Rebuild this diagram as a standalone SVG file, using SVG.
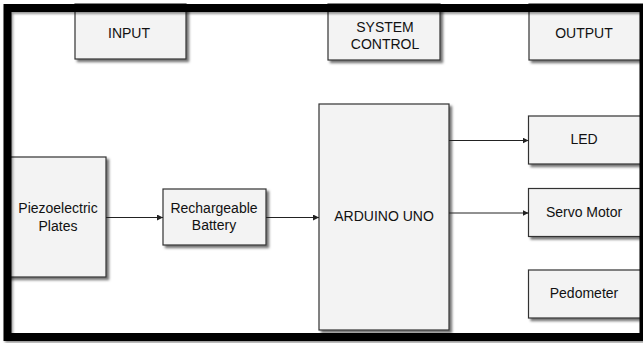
<svg xmlns="http://www.w3.org/2000/svg" width="643" height="343" viewBox="0 0 643 343">
<style>
.box{fill:#f3f3f3;stroke:#333;stroke-width:1.2;filter:url(#sh)}
.t{font-family:"Liberation Sans",Arial,sans-serif;font-size:14px;fill:#111;text-anchor:middle}
.c{stroke:#222;stroke-width:1;fill:none;marker-end:url(#ah)}
</style>
<defs>
<filter id="sh" x="-10%" y="-10%" width="130%" height="130%">
<feDropShadow dx="2.5" dy="2.5" stdDeviation="1" flood-color="#000" flood-opacity="0.55"/>
</filter>
<filter id="fsh" x="-5%" y="-5%" width="110%" height="110%">
<feDropShadow dx="1.5" dy="2" stdDeviation="0.8" flood-color="#000" flood-opacity="0.4"/>
</filter>
<marker id="ah" viewBox="0 0 10 10" refX="10" refY="5" markerWidth="6" markerHeight="6" markerUnits="userSpaceOnUse" orient="auto">
<path d="M0,0 L10,5 L0,10 z" fill="#222"/>
</marker>
</defs>
<rect width="643" height="343" fill="#fff"/>
<g id="input"><rect class="box" x="75" y="4" width="111" height="55"/><text class="t" x="129" y="38">INPUT</text></g>
<g id="system-control"><rect class="box" x="328" y="4" width="112" height="56"/><text class="t" x="385" y="31.5">SYSTEM</text><text class="t" x="385" y="49">CONTROL</text></g>
<g id="output"><rect class="box" x="529" y="4" width="115" height="56"/><text class="t" x="584" y="38">OUTPUT</text></g>
<g id="piezo"><rect class="box" x="6" y="157" width="100" height="120"/><text class="t" x="58" y="213">Piezoelectric</text><text class="t" x="58" y="230.5">Plates</text></g>
<g id="battery"><rect class="box" x="163" y="189" width="103" height="56"/><text class="t" x="214" y="213">Rechargeable</text><text class="t" x="214" y="230">Battery</text></g>
<g id="arduino"><rect class="box" x="319" y="104" width="130" height="226"/><text class="t" x="384" y="221">ARDUINO UNO</text></g>
<g id="led"><rect class="box" x="528.5" y="116" width="115" height="48"/><text class="t" x="584" y="144">LED</text></g>
<g id="servo"><rect class="box" x="528.5" y="188.5" width="115" height="48"/><text class="t" x="584" y="216.5">Servo Motor</text></g>
<g id="pedometer"><rect class="box" x="528.5" y="270" width="115" height="48"/><text class="t" x="584" y="297.5">Pedometer</text></g>
<g id="connectors">
<path class="c" d="M106,217.5 H163"/>
<path class="c" d="M266,217.5 H319"/>
<path class="c" d="M449,140.5 H528.5"/>
<path class="c" d="M449,213 H528.5"/>
</g>
<rect x="7.5" y="8" width="636" height="329" fill="none" stroke="#000" stroke-width="8" filter="url(#fsh)"/>
</svg>
